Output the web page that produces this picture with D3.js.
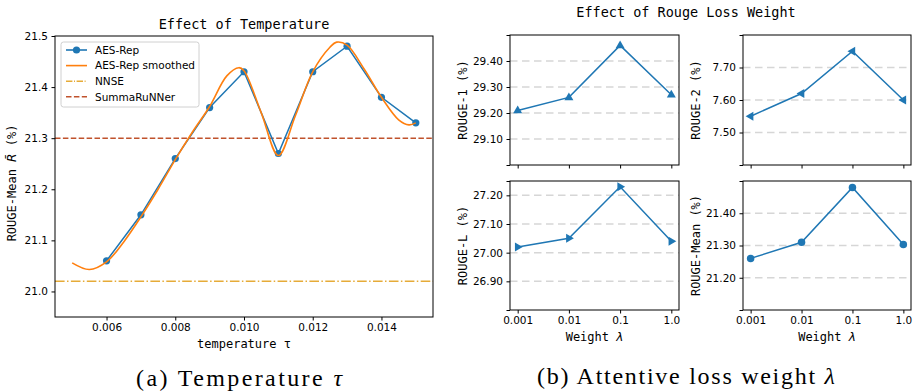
<!DOCTYPE html>
<html>
<head>
<meta charset="utf-8">
<script src="https://cdn.jsdelivr.net/npm/d3@7"></script>
<style>
  body { margin: 0; background: #fff; }
  text { font-family: "DejaVu Sans", sans-serif; fill: #000; }
  .mono { font-family: "DejaVu Sans Mono", monospace; }
  .cap { font-family: "Liberation Serif", serif; }
</style>
</head>
<body>
<div class="container"></div>
<script>
// ---- data: temperature panel ----
const temps = [0.006, 0.007, 0.008, 0.009, 0.010, 0.011, 0.012, 0.013, 0.014, 0.015];
const aesRep = [21.06, 21.15, 21.26, 21.36, 21.43, 21.27, 21.43, 21.48, 21.38, 21.33];
// smoothed curve
const smoothX = [0.0050, 0.0055, 0.0060, 0.0065, 0.0070, 0.0075, 0.0080, 0.0085, 0.0090, 0.0095, 0.00985,
  0.0100, 0.0105, 0.0110, 0.0115, 0.0120, 0.0125, 0.0127, 0.0130, 0.0135, 0.0140, 0.0145, 0.0148, 0.0150];
const smoothY = [21.056, 21.043, 21.058, 21.097, 21.146, 21.200, 21.258, 21.312, 21.362, 21.422, 21.438,
  21.432, 21.350, 21.266, 21.345, 21.430, 21.478, 21.488, 21.482, 21.435, 21.380, 21.336, 21.326, 21.330];
const nnse = 21.02;
const summaRuNNer = 21.30;
const tempTicks = [0.006, 0.008, 0.010, 0.012, 0.014];
const meanTicks = [21.0, 21.1, 21.2, 21.3, 21.4, 21.5];

// ---- data: loss weight panel ----
const weights = ["0.001", "0.01", "0.1", "1.0"];
const rouge1 = [29.21, 29.26, 29.46, 29.27];
const rouge2 = [7.55, 7.62, 7.75, 7.60];
const rougeL = [27.02, 27.05, 27.23, 27.04];
const rougeMean = [21.26, 21.31, 21.48, 21.303];
const r1Ticks = [29.1, 29.2, 29.3, 29.4];
const r2Ticks = [7.5, 7.6, 7.7];
const rlTicks = [26.9, 27.0, 27.1, 27.2];
const rmTicks = [21.2, 21.3, 21.4];

const width = 916;
const height = 392;
const blue = "#1f77b4";
const orange = "#ff7f0e";
const gold = "#e6ab38";
const rust = "#c0522c";

const svg = d3.select("div.container")
    .append("svg")
    .attr("width", width)
    .attr("height", height);

// ===== left panel =====
const L = {x0: 55, x1: 433, y0: 36, y1: 317};
const x = d3.scaleLinear().domain([0.0045, 0.0155]).range([L.x0, L.x1]);
const y = d3.scaleLinear().domain([20.95, 21.5]).range([L.y1, L.y0]);

const left = svg.append("g");

left.append("g")
    .attr("transform", `translate(0,${L.y1})`)
    .call(d3.axisBottom(x).tickValues(tempTicks).tickFormat(d3.format(".3f")).tickSize(3.5).tickPadding(3.5))
    .call(g => g.select(".domain").remove())
    .selectAll("text").style("font-size", "10.5px").style("font-family", "DejaVu Sans");
left.append("g")
    .attr("transform", `translate(${L.x0},0)`)
    .call(d3.axisLeft(y).tickValues(meanTicks).tickFormat(d3.format(".1f")).tickSize(3.5).tickPadding(3.5))
    .call(g => g.select(".domain").remove())
    .selectAll("text").style("font-size", "10.5px").style("font-family", "DejaVu Sans");

// reference lines
left.append("line")
    .attr("x1", L.x0).attr("x2", L.x1).attr("y1", y(nnse)).attr("y2", y(nnse))
    .attr("stroke", gold).attr("stroke-width", 1.6).attr("stroke-dasharray", "9.6,2.4,1.5,2.4");
left.append("line")
    .attr("x1", L.x0).attr("x2", L.x1).attr("y1", y(summaRuNNer)).attr("y2", y(summaRuNNer))
    .attr("stroke", rust).attr("stroke-width", 1.6).attr("stroke-dasharray", "5.5,2.4");

const aesPts = temps.map((t, i) => [t, aesRep[i]]);
left.append("path")
    .attr("d", d3.line().x(d => x(d[0])).y(d => y(d[1]))(aesPts))
    .attr("fill", "none").attr("stroke", blue).attr("stroke-width", 1.5);
left.selectAll("circle.aes")
    .data(aesPts)
    .enter()
    .append("circle")
    .attr("class", "aes")
    .attr("cx", d => x(d[0])).attr("cy", d => y(d[1])).attr("r", 3.6)
    .attr("fill", blue);

const smPts = smoothX.map((t, i) => [t, smoothY[i]]);
left.append("path")
    .attr("d", d3.line().curve(d3.curveCatmullRom.alpha(0.5)).x(d => x(d[0])).y(d => y(d[1]))(smPts))
    .attr("fill", "none").attr("stroke", orange).attr("stroke-width", 1.6);

left.append("rect")
    .attr("x", L.x0).attr("y", L.y0).attr("width", L.x1 - L.x0).attr("height", L.y1 - L.y0)
    .attr("fill", "none").attr("stroke", "#000").attr("stroke-width", 1);

// legend
const leg = left.append("g");
leg.append("rect")
    .attr("x", 61).attr("y", 42).attr("width", 138).attr("height", 65).attr("rx", 2.5)
    .attr("fill", "#fff").attr("fill-opacity", 0.8).attr("stroke", "#d0d0d0");
const legItems = [
  {name: "AES-Rep", color: blue, dash: null, marker: true},
  {name: "AES-Rep smoothed", color: orange, dash: null, marker: false},
  {name: "NNSE", color: gold, dash: "6.4,1.6,1,1.6", marker: false},
  {name: "SummaRuNNer", color: rust, dash: "5.5,2.4", marker: false}
];
legItems.forEach((it, i) => {
  const ly = 50 + i * 15.6;
  leg.append("line").attr("x1", 66).attr("x2", 87).attr("y1", ly).attr("y2", ly)
      .attr("stroke", it.color).attr("stroke-width", 1.6).attr("stroke-dasharray", it.dash);
  if (it.marker) leg.append("circle").attr("cx", 76.5).attr("cy", ly).attr("r", 3.6).attr("fill", it.color);
  leg.append("text").attr("x", 95).attr("y", ly + 3.8).style("font-size", "10.5px").text(it.name);
});

left.append("text").attr("class", "mono")
    .attr("x", (L.x0 + L.x1) / 2).attr("y", 29).attr("text-anchor", "middle")
    .style("font-size", "13.5px").text("Effect of Temperature");
left.append("text").attr("class", "mono")
    .attr("x", (L.x0 + L.x1) / 2).attr("y", 348).attr("text-anchor", "middle")
    .style("font-size", "12px").text("temperature τ");
const yl = left.append("text").attr("class", "mono")
    .attr("transform", "translate(16,183) rotate(-90)").attr("text-anchor", "middle")
    .style("font-size", "12px");
yl.append("tspan").text("ROUGE-Mean ");
yl.append("tspan").style("font-family", "DejaVu Sans").style("font-style", "italic").text("R\u0304");
yl.append("tspan").text(" (%)");

svg.append("text").attr("class", "cap")
    .attr("x", 239).attr("y", 386).attr("text-anchor", "middle")
    .attr("textLength", 206).attr("lengthAdjust", "spacing")
    .style("font-size", "24px")
    .html("(a) Temperature <tspan font-style='italic'>τ</tspan>");

// ===== right panel =====
const panels = [
  {vals: rouge1, ticks: r1Ticks, dom: [29.0, 29.5], label: "ROUGE-1 (%)", marker: "up", box: {x0: 510, x1: 679, y0: 35, y1: 165}, xlab: false},
  {vals: rouge2, ticks: r2Ticks, dom: [7.4, 7.8], label: "ROUGE-2 (%)", marker: "left", box: {x0: 743, x1: 911, y0: 35, y1: 165}, xlab: false},
  {vals: rougeL, ticks: rlTicks, dom: [26.8, 27.25], label: "ROUGE-L (%)", marker: "right", box: {x0: 510, x1: 679, y0: 181, y1: 310}, xlab: true},
  {vals: rougeMean, ticks: rmTicks, dom: [21.1, 21.5], label: "ROUGE-Mean (%)", marker: "circle", box: {x0: 743, x1: 911, y0: 181, y1: 310}, xlab: true}
];

function triangle(dir, s) {
  // triangle pointing in dir, centred on 0,0
  const pts = {
    up: [[0, -s], [s * 0.9, s * 0.55], [-s * 0.9, s * 0.55]],
    left: [[-s, 0], [s * 0.55, -s * 0.9], [s * 0.55, s * 0.9]],
    right: [[s, 0], [-s * 0.55, -s * 0.9], [-s * 0.55, s * 0.9]]
  }[dir];
  return "M" + pts.map(p => p.join(",")).join("L") + "Z";
}

panels.forEach(p => {
  const b = p.box;
  const g = svg.append("g");
  const px = d3.scaleLinear().domain([-0.15, 3.15]).range([b.x0, b.x1]);
  const py = d3.scaleLinear().domain(p.dom).range([b.y1, b.y0]);

  // grid
  g.selectAll("line.grid")
      .data(p.ticks)
      .enter()
      .append("line")
      .attr("class", "grid")
      .attr("x1", b.x0).attr("x2", b.x1)
      .attr("y1", d => py(d)).attr("y2", d => py(d))
      .attr("stroke", "#d6d6d6").attr("stroke-width", 1.5).attr("stroke-dasharray", "7.5,4.5");

  g.append("g")
      .attr("transform", `translate(0,${b.y1})`)
      .call(d3.axisBottom(px).tickValues([0, 1, 2, 3]).tickFormat(i => p.xlab ? weights[i] : "").tickSize(3.5).tickPadding(3.5))
      .call(a => a.select(".domain").remove())
      .selectAll("text").style("font-size", "10.5px").style("font-family", "DejaVu Sans");
  g.append("g")
      .attr("transform", `translate(${b.x0},0)`)
      .call(d3.axisLeft(py).tickValues([p.dom[0]].concat(p.ticks, [p.dom[1]]))
          .tickFormat(d => p.ticks.includes(d) ? d3.format(".2f")(d) : "").tickSize(3.5).tickPadding(3.5))
      .call(a => a.select(".domain").remove())
      .selectAll("text").style("font-size", "10.5px").style("font-family", "DejaVu Sans");

  g.append("path")
      .attr("d", d3.line().x((d, i) => px(i)).y(d => py(d))(p.vals))
      .attr("fill", "none").attr("stroke", blue).attr("stroke-width", 1.5);

  g.selectAll("path.mk")
      .data(p.vals)
      .enter()
      .append("path")
      .attr("class", "mk")
      .attr("transform", (d, i) => `translate(${px(i)},${py(d)})`)
      .attr("d", p.marker === "circle" ? d3.symbol(d3.symbolCircle, 44)() : triangle(p.marker, 5))
      .attr("fill", blue);

  g.append("rect")
      .attr("x", b.x0).attr("y", b.y0).attr("width", b.x1 - b.x0).attr("height", b.y1 - b.y0)
      .attr("fill", "none").attr("stroke", "#000").attr("stroke-width", 1);

  g.append("text").attr("class", "mono")
      .attr("transform", `translate(${b.x0 - 43},${(b.y0 + b.y1) / 2}) rotate(-90)`)
      .attr("text-anchor", "middle").style("font-size", "12px")
      .text(p.label);

  if (p.xlab) {
    const t = g.append("text").attr("class", "mono")
        .attr("x", (b.x0 + b.x1) / 2).attr("y", 341).attr("text-anchor", "middle")
        .style("font-size", "12px");
    t.append("tspan").text("Weight ");
    t.append("tspan").style("font-family", "DejaVu Sans").style("font-style", "italic").text("λ");
  }
});

svg.append("text").attr("class", "mono")
    .attr("x", 686).attr("y", 17).attr("text-anchor", "middle")
    .style("font-size", "13.5px").text("Effect of Rouge Loss Weight");

svg.append("text").attr("class", "cap")
    .attr("x", 686).attr("y", 384).attr("text-anchor", "middle")
    .attr("textLength", 298).attr("lengthAdjust", "spacing")
    .style("font-size", "24px")
    .html("(b) Attentive loss weight <tspan font-style='italic'>λ</tspan>");
</script>
</body>
</html>
